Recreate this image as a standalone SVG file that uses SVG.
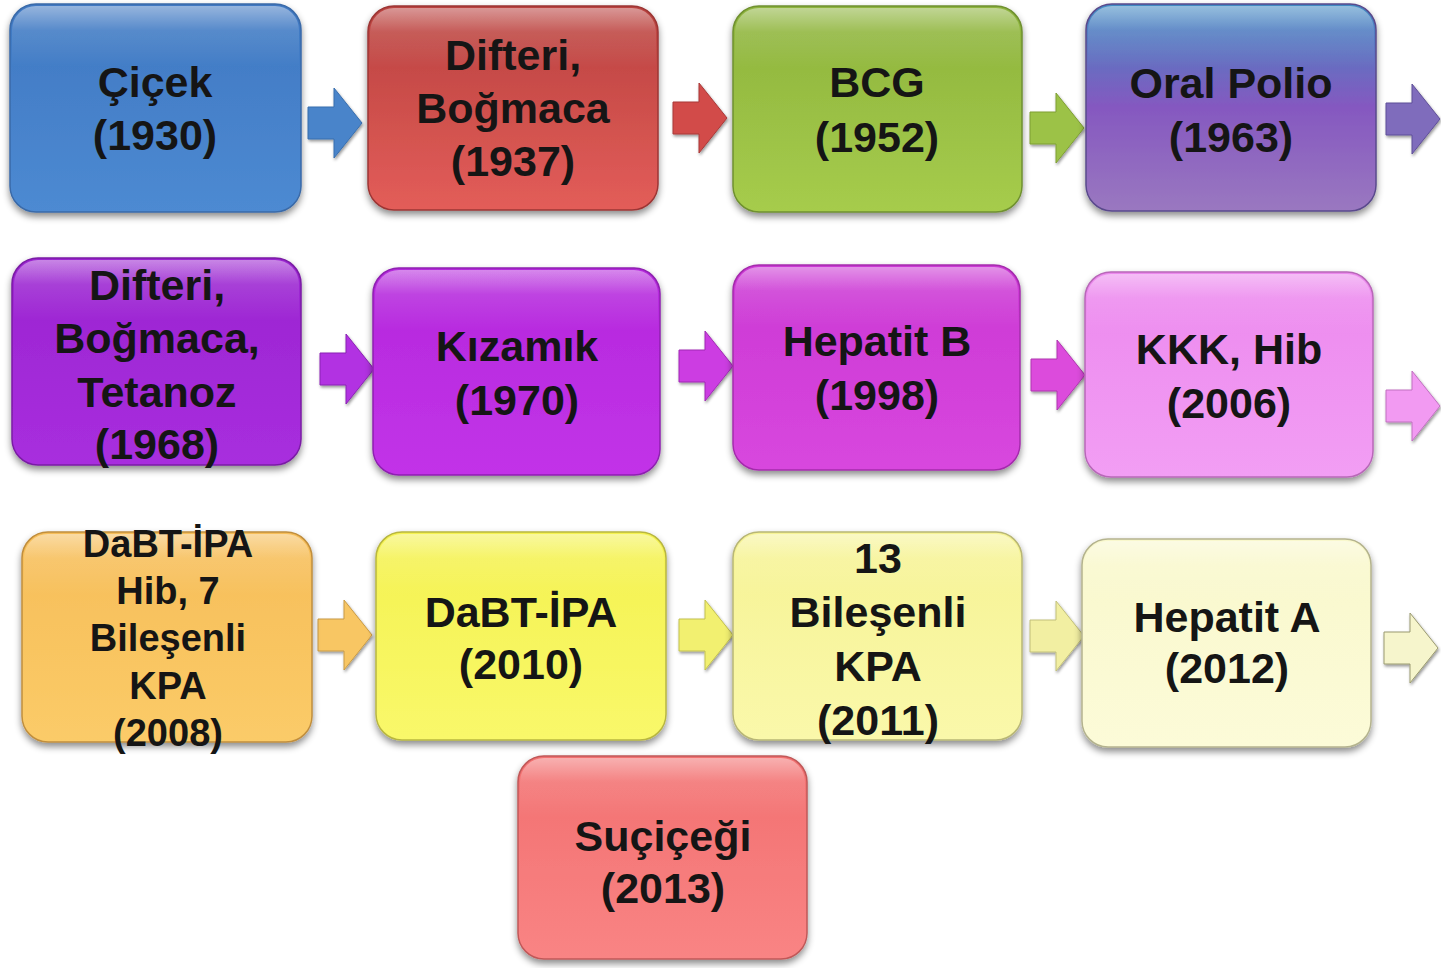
<svg xmlns="http://www.w3.org/2000/svg" width="1441" height="968" viewBox="0 0 1441 968">
<defs>
<filter id="sh" x="-10%" y="-10%" width="120%" height="125%">
<feDropShadow dx="0" dy="4" stdDeviation="3.5" flood-color="#000" flood-opacity="0.45"/>
</filter>
<filter id="ash" x="-20%" y="-20%" width="140%" height="140%">
<feDropShadow dx="1" dy="2" stdDeviation="1.5" flood-color="#000" flood-opacity="0.4"/>
</filter>
<linearGradient id="gloss" x1="0" y1="0" x2="0" y2="1">
<stop offset="0" stop-color="#fff" stop-opacity="0.45"/>
<stop offset="0.12" stop-color="#fff" stop-opacity="0.12"/>
<stop offset="0.3" stop-color="#fff" stop-opacity="0"/>
</linearGradient>
<linearGradient id="g1" x1="0" y1="0" x2="0" y2="1"><stop offset="0" stop-color="#3f78c2"/><stop offset="1" stop-color="#4d8ad2"/></linearGradient>
<linearGradient id="g2" x1="0" y1="0" x2="0" y2="1"><stop offset="0" stop-color="#b9423f"/><stop offset="1" stop-color="#e35d59"/></linearGradient>
<linearGradient id="g3" x1="0" y1="0" x2="0" y2="1"><stop offset="0" stop-color="#8db33c"/><stop offset="1" stop-color="#a6cc4c"/></linearGradient>
<linearGradient id="g4" x1="0" y1="0" x2="0" y2="1"><stop offset="0" stop-color="#3f8ac2"/><stop offset="0.5" stop-color="#8558c0"/><stop offset="1" stop-color="#9a78c0"/></linearGradient>
<linearGradient id="g5" x1="0" y1="0" x2="0" y2="1"><stop offset="0" stop-color="#9a24d0"/><stop offset="1" stop-color="#a82ede"/></linearGradient>
<linearGradient id="g6" x1="0" y1="0" x2="0" y2="1"><stop offset="0" stop-color="#b428dc"/><stop offset="1" stop-color="#c233e8"/></linearGradient>
<linearGradient id="g7" x1="0" y1="0" x2="0" y2="1"><stop offset="0" stop-color="#cb38d4"/><stop offset="1" stop-color="#d847de"/></linearGradient>
<linearGradient id="g8" x1="0" y1="0" x2="0" y2="1"><stop offset="0" stop-color="#ec88ee"/><stop offset="1" stop-color="#f29ef4"/></linearGradient>
<linearGradient id="g9" x1="0" y1="0" x2="0" y2="1"><stop offset="0" stop-color="#f6bd58"/><stop offset="1" stop-color="#fbcb68"/></linearGradient>
<linearGradient id="g10" x1="0" y1="0" x2="0" y2="1"><stop offset="0" stop-color="#f4f250"/><stop offset="1" stop-color="#f9f86a"/></linearGradient>
<linearGradient id="g11" x1="0" y1="0" x2="0" y2="1"><stop offset="0" stop-color="#f6f394"/><stop offset="1" stop-color="#faf8aa"/></linearGradient>
<linearGradient id="g12" x1="0" y1="0" x2="0" y2="1"><stop offset="0" stop-color="#f9f8cc"/><stop offset="1" stop-color="#fcfbd8"/></linearGradient>
<linearGradient id="g13" x1="0" y1="0" x2="0" y2="1"><stop offset="0" stop-color="#f27070"/><stop offset="1" stop-color="#f98484"/></linearGradient>
<path id="arr" d="M0,-16 L26,-16 L26,-35 L54,0 L26,35 L26,16 L0,16 Z"/>
</defs>
<style>
.box{filter:url(#sh);stroke-width:1.5}
.gl{fill:url(#gloss);stroke:none}
.t{font-family:"Liberation Sans",Arial,sans-serif;font-weight:bold;font-size:43px;fill:#151515;text-anchor:middle}
.s{font-size:38px}
.ar{filter:url(#ash);stroke-width:1}
</style>
<rect width="1441" height="968" fill="#fff"/>

<g id="connectors">
<use href="#arr" class="ar" transform="translate(308,123)" fill="#4884ca" stroke="#3a6fae"/>
<use href="#arr" class="ar" transform="translate(673,118)" fill="#d24c49" stroke="#a83a38"/>
<use href="#arr" class="ar" transform="translate(1030,128)" fill="#9cc246" stroke="#7e9f34"/>
<use href="#arr" class="ar" transform="translate(1386,119)" fill="#7f6cbc" stroke="#5f4f98"/>
<use href="#arr" class="ar" transform="translate(320,369)" fill="#b232e2" stroke="#8a22b4"/>
<use href="#arr" class="ar" transform="translate(679,366)" fill="#cc3ce2" stroke="#a02ab4"/>
<use href="#arr" class="ar" transform="translate(1031,375)" fill="#dc4cdc" stroke="#b036b0"/>
<use href="#arr" class="ar" transform="translate(1386,406)" fill="#f29af2" stroke="#c070c0"/>
<use href="#arr" class="ar" transform="translate(318,635)" fill="#f8c664" stroke="#c89a44"/>
<use href="#arr" class="ar" transform="translate(679,635)" fill="#f2f070" stroke="#c2c050"/>
<use href="#arr" class="ar" transform="translate(1030,636)" fill="#f2efa2" stroke="#c2c07a"/>
<use href="#arr" class="ar" transform="translate(1384,648)" fill="#f6f5cc" stroke="#9a9a70"/>
</g>

<g id="n1">
<rect class="box" x="10" y="4" width="291" height="208" rx="26" fill="url(#g1)" stroke="#3a6aa8"/>
<rect class="gl" x="12" y="6" width="287" height="204" rx="24"/>
<text class="t" x="155" y="97">Çiçek</text>
<text class="t" x="155" y="150">(1930)</text>
</g>
<g id="n2">
<rect class="box" x="368" y="6" width="290" height="204" rx="26" fill="url(#g2)" stroke="#9c3634"/>
<rect class="gl" x="370" y="8" width="286" height="200" rx="24"/>
<text class="t" x="513" y="70">Difteri,</text>
<text class="t" x="513" y="123">Boğmaca</text>
<text class="t" x="513" y="176">(1937)</text>
</g>
<g id="n3">
<rect class="box" x="733" y="6" width="289" height="206" rx="26" fill="url(#g3)" stroke="#6f9030"/>
<rect class="gl" x="735" y="8" width="285" height="202" rx="24"/>
<text class="t" x="877" y="97">BCG</text>
<text class="t" x="877" y="152">(1952)</text>
</g>
<g id="n4">
<rect class="box" x="1086" y="4" width="290" height="207" rx="26" fill="url(#g4)" stroke="#5a4a8c"/>
<rect class="gl" x="1088" y="6" width="286" height="203" rx="24"/>
<text class="t" x="1231" y="98">Oral Polio</text>
<text class="t" x="1231" y="152">(1963)</text>
</g>

<g id="n5">
<rect class="box" x="12" y="258" width="289" height="207" rx="26" fill="url(#g5)" stroke="#7a1ca4"/>
<rect class="gl" x="14" y="260" width="285" height="203" rx="24"/>
<text class="t" x="157" y="300">Difteri,</text>
<text class="t" x="157" y="353">Boğmaca,</text>
<text class="t" x="157" y="407">Tetanoz</text>
<text class="t" x="157" y="459">(1968)</text>
</g>
<g id="n6">
<rect class="box" x="373" y="268" width="287" height="207" rx="26" fill="url(#g6)" stroke="#8e20b0"/>
<rect class="gl" x="375" y="270" width="283" height="203" rx="24"/>
<text class="t" x="517" y="361">Kızamık</text>
<text class="t" x="517" y="415">(1970)</text>
</g>
<g id="n7">
<rect class="box" x="733" y="265" width="287" height="205" rx="26" fill="url(#g7)" stroke="#a42cac"/>
<rect class="gl" x="735" y="267" width="283" height="201" rx="24"/>
<text class="t" x="877" y="356">Hepatit B</text>
<text class="t" x="877" y="410">(1998)</text>
</g>
<g id="n8">
<rect class="box" x="1085" y="272" width="288" height="205" rx="26" fill="url(#g8)" stroke="#b868b8"/>
<rect class="gl" x="1087" y="274" width="284" height="201" rx="24"/>
<text class="t" x="1229" y="364">KKK, Hib</text>
<text class="t" x="1229" y="418">(2006)</text>
</g>

<g id="n9">
<rect class="box" x="22" y="532" width="290" height="210" rx="26" fill="url(#g9)" stroke="#c08e3e"/>
<rect class="gl" x="24" y="534" width="286" height="206" rx="24"/>
<text class="t s" x="168" y="557">DaBT-İPA</text>
<text class="t s" x="168" y="604">Hib, 7</text>
<text class="t s" x="168" y="651">Bileşenli</text>
<text class="t s" x="168" y="699">KPA</text>
<text class="t s" x="168" y="746">(2008)</text>
</g>
<g id="n10">
<rect class="box" x="376" y="532" width="290" height="208" rx="26" fill="url(#g10)" stroke="#b8b640"/>
<rect class="gl" x="378" y="534" width="286" height="204" rx="24"/>
<text class="t" x="521" y="627">DaBT-İPA</text>
<text class="t" x="521" y="679">(2010)</text>
</g>
<g id="n11">
<rect class="box" x="733" y="532" width="289" height="208" rx="26" fill="url(#g11)" stroke="#b8b676"/>
<rect class="gl" x="735" y="534" width="285" height="204" rx="24"/>
<text class="t" x="878" y="573">13</text>
<text class="t" x="878" y="627">Bileşenli</text>
<text class="t" x="878" y="681">KPA</text>
<text class="t" x="878" y="735">(2011)</text>
</g>
<g id="n12">
<rect class="box" x="1082" y="539" width="289" height="208" rx="26" fill="url(#g12)" stroke="#b4b38e"/>
<rect class="gl" x="1084" y="541" width="285" height="204" rx="24"/>
<text class="t" x="1227" y="632">Hepatit A</text>
<text class="t" x="1227" y="683">(2012)</text>
</g>

<g id="n13">
<rect class="box" x="518" y="756" width="289" height="203" rx="26" fill="url(#g13)" stroke="#c05858"/>
<rect class="gl" x="520" y="758" width="285" height="199" rx="24"/>
<text class="t" x="663" y="851">Suçiçeği</text>
<text class="t" x="663" y="903">(2013)</text>
</g>
</svg>
